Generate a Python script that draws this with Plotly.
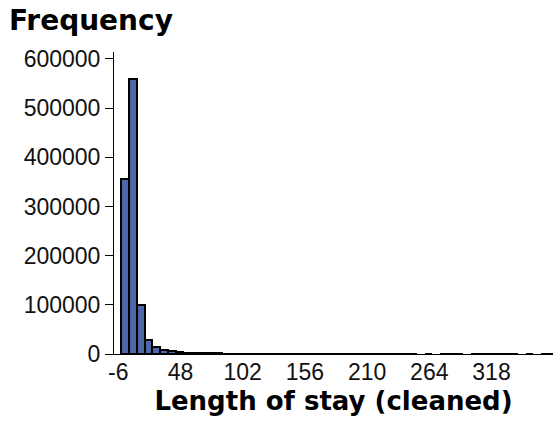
import plotly.graph_objects as go

# Histogram of length of stay (cleaned): bins of width 6.75, first bin centred on 0
bin_width = 6.75
first_center = 0.0
counts = [
    355000, 559000, 99500, 29000, 14000, 8500, 5200, 3600, 2600, 2000,
    1600, 1300, 1100, 950, 800, 700, 620, 540, 480, 430,
    390, 350, 320, 290, 260, 240, 220, 200, 185, 170,
    155, 140, 130, 120, 110, 100, 90, 80, None, 60,
    None, 50, 45, 40, None, 35, 30, 30, 25, 20,
    20, None, 15, None, 15, 10,
]
centers = [first_center + i * bin_width for i in range(len(counts))]

x_ticks = [-6, 48, 102, 156, 210, 264, 318]
y_ticks = [0, 100000, 200000, 300000, 400000, 500000, 600000]

fig = go.Figure(
    go.Bar(
        x=centers,
        y=counts,
        width=bin_width,
        marker=dict(color="#4d67a9", line=dict(color="black", width=2)),
    )
)

tick_font = dict(family="Liberation Sans, Arial, sans-serif", size=23, color="#111")

fig.update_layout(
    width=553,
    height=423,
    margin=dict(l=114, r=0, t=52, b=69),
    paper_bgcolor="white",
    plot_bgcolor="white",
    showlegend=False,
    bargap=0,
    title=dict(
        text="Frequency",
        font=dict(family="DejaVu Sans", size=28, color="black", weight="bold"),
        x=9 / 553,
        xanchor="left",
        xref="container",
        y=1 - 10 / 423,
        yanchor="top",
        yref="container",
        pad=dict(t=0, l=0),
    ),
    xaxis=dict(
        range=[-9.7, 371.4],
        tickmode="array",
        tickvals=x_ticks,
        ticktext=[str(v) for v in x_ticks],
        ticks="",
        ticklabelstandoff=-3,
        showgrid=False,
        zeroline=False,
        showline=True,
        linecolor="black",
        linewidth=1,
        tickfont=tick_font,
        title=dict(
            text="Length of stay (cleaned)",
            font=dict(family="DejaVu Sans", size=26, color="black", weight="bold"),
            standoff=8,
        ),
    ),
    yaxis=dict(
        range=[0, 614000],
        tickmode="array",
        tickvals=y_ticks,
        ticktext=[str(v) for v in y_ticks],
        ticks="outside",
        ticklen=8,
        tickcolor="black",
        tickwidth=1,
        showgrid=False,
        zeroline=False,
        showline=True,
        linecolor="black",
        linewidth=1,
        tickfont=tick_font,
    ),
)

fig.write_html("out.html")
